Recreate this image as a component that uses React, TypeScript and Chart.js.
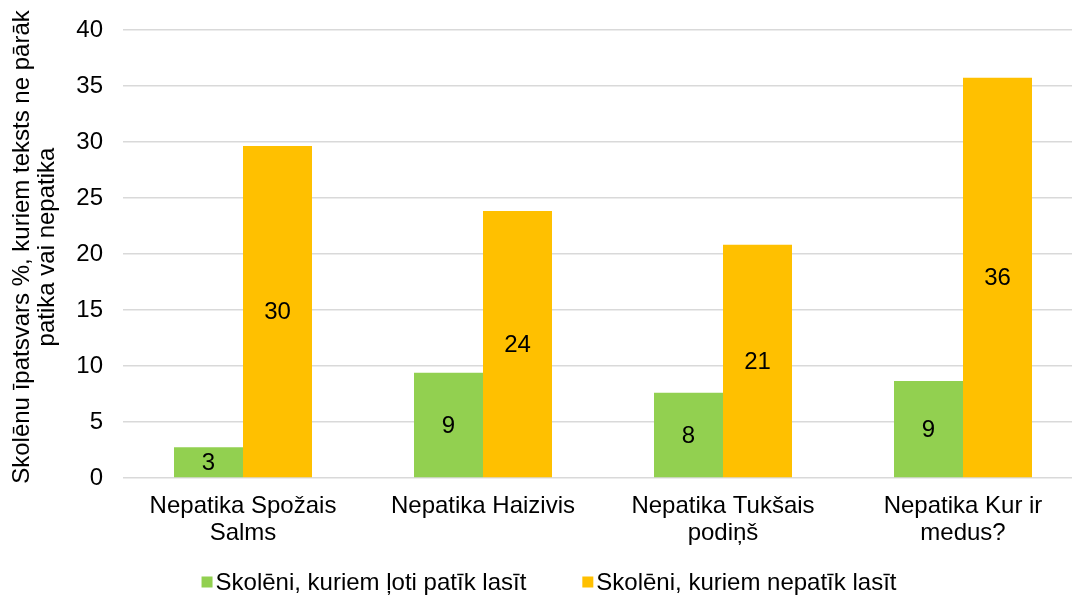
import React, { useEffect, useRef } from 'react';
import { Chart, registerables } from 'chart.js';

Chart.register(...registerables);

const categories: string[][] = [
  ['Nepatika Spožais', 'Salms'],
  ['Nepatika Haizivis'],
  ['Nepatika Tukšais', 'podiņš'],
  ['Nepatika Kur ir', 'medus?'],
];
const seriesNames = ['Skolēni, kuriem ļoti patīk lasīt', 'Skolēni, kuriem nepatīk lasīt'];
const likeValues = [2.74, 9.4, 7.62, 8.66];
const dislikeValues = [29.64, 23.84, 20.83, 35.74];
const yAxisTitle = ['Skolēnu īpatsvars %, kuriem teksts ne pārāk', 'patika vai nepatika'];
const yMin = 0;
const yMax = 40;
const yStep = 5;

const FONT = "'Liberation Sans', Arial, sans-serif";
const FS = 24;
const GREEN = '#92d050';
const YELLOW = '#ffc000';

const barLabelPlugin = {
  id: 'barLabels',
  afterDatasetsDraw(chart: any) {
    const ctx = chart.ctx;
    ctx.save();
    ctx.font = `${FS}px ${FONT}`;
    ctx.fillStyle = '#000';
    ctx.textAlign = 'center';
    ctx.textBaseline = 'middle';
    chart.data.datasets.forEach((ds: any, i: number) => {
      const meta = chart.getDatasetMeta(i);
      meta.data.forEach((bar: any, j: number) => {
        const p = bar.getProps(['x', 'y', 'base'], true);
        ctx.fillText(String(Math.round(ds.data[j])), p.x, (p.y + p.base) / 2 + 1);
      });
    });
    ctx.restore();
  },
};

const yTitlePlugin = {
  id: 'yTitle',
  afterDraw(chart: any) {
    const ctx = chart.ctx;
    ctx.save();
    ctx.font = `${FS}px ${FONT}`;
    ctx.fillStyle = '#000';
    ctx.textAlign = 'center';
    ctx.textBaseline = 'middle';
    const cy = 247;
    const xs = [22, 47];
    yAxisTitle.forEach((line, i) => {
      ctx.save();
      ctx.translate(xs[i], cy);
      ctx.rotate(-Math.PI / 2);
      ctx.fillText(line, 0, 0);
      ctx.restore();
    });
    ctx.restore();
  },
};

const legendPlugin = {
  id: 'customLegend',
  afterDraw(chart: any) {
    const ctx = chart.ctx;
    ctx.save();
    ctx.font = `${FS}px ${FONT}`;
    const box = 11;
    const gap = 3;
    const spacing = 56;
    const items = chart.data.datasets.map((ds: any) => ({
      text: ds.label,
      color: ds.backgroundColor,
      w: ctx.measureText(ds.label).width,
    }));
    const total = items.reduce((s: number, it: any) => s + box + gap + it.w, 0) + spacing * (items.length - 1);
    let x = 549 - total / 2;
    const cy = 582;
    ctx.textBaseline = 'middle';
    ctx.textAlign = 'left';
    items.forEach((it: any) => {
      ctx.fillStyle = it.color;
      ctx.fillRect(x, cy - box / 2, box, box);
      ctx.fillStyle = '#000';
      ctx.fillText(it.text, x + box + gap, cy + 1);
      x += box + gap + it.w + spacing;
    });
    ctx.restore();
  },
};

export default function App() {
  const ref = useRef<HTMLCanvasElement>(null);

  useEffect(() => {
    if (!ref.current) return;
    const chart = new Chart(ref.current, {
      type: 'bar',
      data: {
        labels: categories as any,
        datasets: [
          {
            label: seriesNames[0],
            data: likeValues,
            backgroundColor: GREEN,
            categoryPercentage: 0.575,
            barPercentage: 1,
          },
          {
            label: seriesNames[1],
            data: dislikeValues,
            backgroundColor: YELLOW,
            categoryPercentage: 0.575,
            barPercentage: 1,
          },
        ],
      },
      options: {
        responsive: false,
        animation: false,
        layout: { padding: { top: 30, right: 7, bottom: 38, left: 0 } },
        plugins: {
          legend: { display: false },
          tooltip: { enabled: false },
        },
        scales: {
          x: {
            grid: { display: false, drawTicks: false },
            border: { display: false },
            ticks: {
              color: '#000',
              font: { family: FONT, size: FS, lineHeight: 1.13 },
              padding: 15,
              maxRotation: 0,
              autoSkip: false,
            },
            afterFit(scale: any) {
              scale.height = 80;
              scale.paddingLeft = 0;
              scale.paddingRight = 0;
            },
          },
          y: {
            min: yMin,
            max: yMax,
            grid: { color: '#d9d9d9', lineWidth: 1.5, drawTicks: false },
            border: { display: false },
            ticks: {
              stepSize: yStep,
              color: '#000',
              font: { family: FONT, size: FS },
              padding: 20,
            },
            afterFit(scale: any) {
              scale.width = 123;
              scale.paddingTop = 0;
              scale.paddingBottom = 0;
            },
          },
        },
      },
      plugins: [barLabelPlugin, yTitlePlugin, legendPlugin],
    });
    return () => chart.destroy();
  }, []);

  return (
    <div
      style={{
        position: 'fixed',
        left: 0,
        top: 0,
        width: 1072,
        height: 596,
        overflow: 'hidden',
        background: '#fff',
      }}
    >
      <canvas ref={ref} width={1090} height={596} style={{ display: 'block' }} />
    </div>
  );
}
